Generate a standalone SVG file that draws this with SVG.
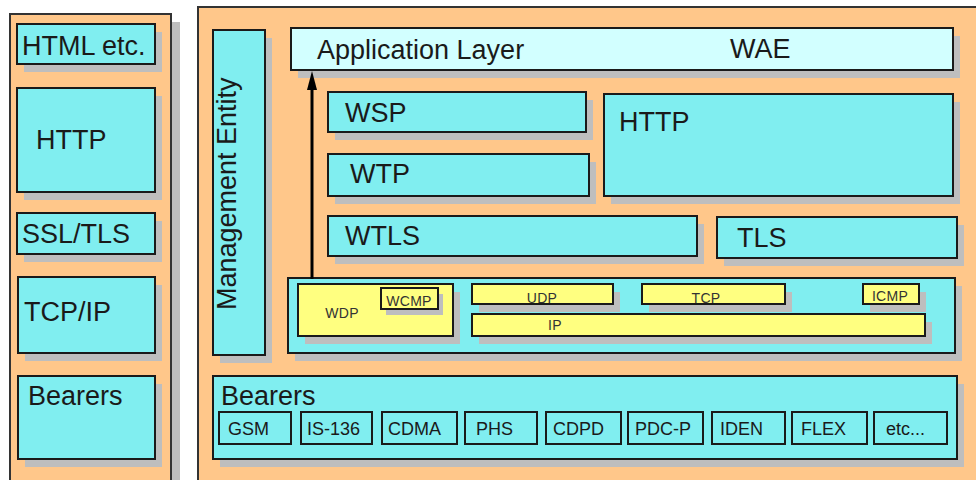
<svg xmlns="http://www.w3.org/2000/svg" width="976" height="480" viewBox="0 0 976 480">
<defs>
<style>
.panel{fill:#FFC78A;stroke:#333;stroke-width:2}
.sh{fill:#BEBEBE}
.box{fill:#80EEF0;stroke:#1a1a1a;stroke-width:2}
.app{fill:#D2FFFF;stroke:#1a1a1a;stroke-width:2}
.y{fill:#FFFF80;stroke:#1a1a1a;stroke-width:2}
.sub{fill:#80EEF0;stroke:#1a1a1a;stroke-width:2}
.t{font-family:"Liberation Sans",Arial,sans-serif;font-size:27px;fill:#1a1a1a}
.s{font-family:"Liberation Sans",Arial,sans-serif;font-size:18px;fill:#1a1a1a}
.k{font-family:"Liberation Sans",Arial,sans-serif;font-size:14px;letter-spacing:0.3px;fill:#333;text-anchor:middle}
</style>
</defs>
<rect width="976" height="480" fill="#fff"/>
<!-- panels -->
<g id="panel-left">
<rect class="sh" x="19" y="22" width="161" height="470"/>
<rect class="panel" x="10" y="14" width="161" height="470"/>
</g>
<g id="panel-right">
<rect class="panel" x="198" y="7" width="790" height="477"/>
</g>
<!-- left column -->
<g id="html-etc">
<rect class="sh" x="24" y="32" width="138" height="40"/>
<rect class="box" x="17" y="24" width="138" height="40"/>
<text class="t" x="22" y="55">HTML etc.</text>
</g>
<g id="http-left">
<rect class="sh" x="24" y="96" width="138" height="104"/>
<rect class="box" x="17" y="88" width="138" height="104"/>
<text class="t" x="36" y="149">HTTP</text>
</g>
<g id="ssl-tls">
<rect class="sh" x="24" y="221" width="138" height="41"/>
<rect class="box" x="17" y="213" width="138" height="41"/>
<text class="t" x="22" y="243">SSL/TLS</text>
</g>
<g id="tcp-ip">
<rect class="sh" x="25" y="285" width="137" height="76"/>
<rect class="box" x="18" y="277" width="137" height="76"/>
<text class="t" x="24" y="321">TCP/IP</text>
</g>
<g id="bearers-left">
<rect class="sh" x="25" y="384" width="137" height="83"/>
<rect class="box" x="18" y="376" width="137" height="83"/>
<text class="t" x="28" y="405">Bearers</text>
</g>
<!-- right side -->
<g id="management-entity">
<rect class="sh" x="220" y="38" width="52" height="325"/>
<rect class="box" x="213" y="30" width="52" height="325"/>
<text class="t" transform="translate(236,310) rotate(-90)">Management Entity</text>
</g>
<g id="application-layer">
<rect class="sh" x="298" y="36" width="662" height="42"/>
<rect class="app" x="291" y="28" width="662" height="42"/>
<text class="t" x="317" y="59">Application Layer</text>
<text class="t" x="730" y="58">WAE</text>
</g>
<g id="wsp">
<rect class="sh" x="335" y="100" width="258" height="40"/>
<rect class="box" x="328" y="92" width="258" height="40"/>
<text class="t" x="345" y="122">WSP</text>
</g>
<g id="wtp">
<rect class="sh" x="335" y="162" width="261" height="42"/>
<rect class="box" x="328" y="154" width="261" height="42"/>
<text class="t" x="350" y="183">WTP</text>
</g>
<g id="http-right">
<rect class="sh" x="611" y="102" width="349" height="102"/>
<rect class="box" x="604" y="94" width="349" height="102"/>
<text class="t" x="619" y="131">HTTP</text>
</g>
<g id="wtls">
<rect class="sh" x="335" y="224" width="369" height="40"/>
<rect class="box" x="328" y="216" width="369" height="40"/>
<text class="t" x="345" y="245">WTLS</text>
</g>
<g id="tls">
<rect class="sh" x="724" y="225" width="240" height="41"/>
<rect class="box" x="717" y="217" width="240" height="41"/>
<text class="t" x="737" y="247">TLS</text>
</g>
<g id="transport">
<rect class="sh" x="295" y="286" width="667" height="75"/>
<rect class="box" x="288" y="278" width="667" height="75"/>
</g>
<g id="wdp">
<rect class="sh" x="305" y="292" width="155" height="52"/>
<rect class="y" x="298" y="284" width="155" height="52"/>
<text class="k" x="342" y="318">WDP</text>
</g>
<g id="wcmp">
<rect class="sh" x="386" y="294" width="57" height="21"/>
<rect class="y" x="381" y="288" width="57" height="21"/>
<text class="k" x="409" y="306">WCMP</text>
</g>
<g id="udp">
<rect class="sh" x="479" y="292" width="141" height="20"/>
<rect class="y" x="472" y="284" width="141" height="20"/>
<text class="k" x="542" y="303">UDP</text>
</g>
<g id="tcp">
<rect class="sh" x="649" y="292" width="143" height="20"/>
<rect class="y" x="642" y="284" width="143" height="20"/>
<text class="k" x="706" y="303">TCP</text>
</g>
<g id="icmp">
<rect class="sh" x="870" y="292" width="56" height="20"/>
<rect class="y" x="863" y="284" width="56" height="20"/>
<text class="k" x="890" y="301">ICMP</text>
</g>
<g id="ip">
<rect class="sh" x="479" y="322" width="453" height="22"/>
<rect class="y" x="472" y="314" width="453" height="22"/>
<text class="k" x="555" y="330">IP</text>
</g>
<g id="bearers-right">
<rect class="sh" x="220" y="384" width="744" height="83"/>
<rect class="box" x="213" y="376" width="744" height="83"/>
<text class="t" x="221" y="405">Bearers</text>
</g>
<g id="gsm"><rect class="sub" x="219" y="412" width="72" height="32"/><text class="s" x="228" y="435">GSM</text></g>
<g id="is-136"><rect class="sub" x="301" y="412" width="71" height="32"/><text class="s" x="307" y="435">IS-136</text></g>
<g id="cdma"><rect class="sub" x="382" y="412" width="75" height="32"/><text class="s" x="388" y="435">CDMA</text></g>
<g id="phs"><rect class="sub" x="465" y="412" width="72" height="32"/><text class="s" x="476" y="435">PHS</text></g>
<g id="cdpd"><rect class="sub" x="546" y="412" width="75" height="32"/><text class="s" x="553" y="435">CDPD</text></g>
<g id="pdc-p"><rect class="sub" x="628" y="412" width="75" height="32"/><text class="s" x="635" y="435">PDC-P</text></g>
<g id="iden"><rect class="sub" x="712" y="412" width="73" height="32"/><text class="s" x="720" y="435">IDEN</text></g>
<g id="flex"><rect class="sub" x="792" y="412" width="75" height="32"/><text class="s" x="801" y="435">FLEX</text></g>
<g id="etc"><rect class="sub" x="874" y="412" width="73" height="32"/><text class="s" x="886" y="435">etc...</text></g>
<!-- connectors -->
<g id="connectors">
<line x1="312" y1="279" x2="312" y2="86" stroke="#000" stroke-width="3"/>
<polygon points="312,71 307,90 317,90" fill="#000"/>
</g>
</svg>
